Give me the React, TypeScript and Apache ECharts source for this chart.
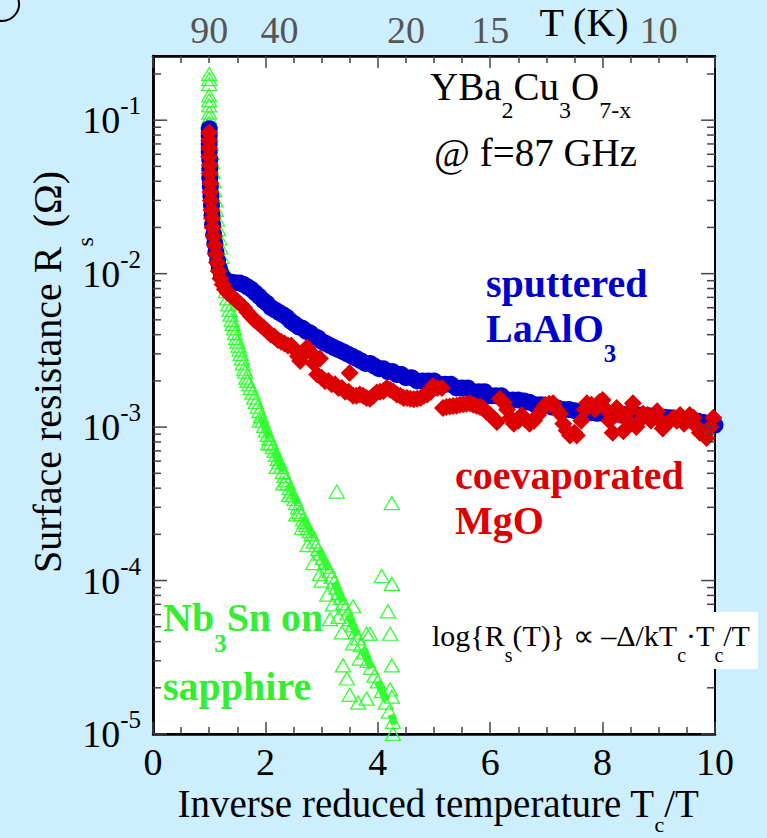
import React, { useEffect, useRef } from "react";
import * as echarts from "echarts";

// ---------------- data ----------------
const TC = 90; // K
const xMin = 0;
const xMax = 10;
const xInterval = 2;
const yMin = 1e-5;
const yMax = 0.262;
const topTemperatures = [90, 40, 20, 15, 10];
const decades = [1e-5, 1e-4, 1e-3, 1e-2, 1e-1];
const minorMultipliers = [2, 3, 4, 5, 6, 7, 8, 9];

const sputteredLaAlO3: number[][] = [
  [1.0, 0.088], [1.0, 0.079], [1.0, 0.07], [1.0, 0.062], [1.01, 0.055], [1.01, 0.048], [1.01, 0.042],
  [1.02, 0.037], [1.03, 0.032], [1.04, 0.028], [1.05, 0.024], [1.06, 0.021], [1.08, 0.018], [1.1, 0.0158],
  [1.12, 0.0138], [1.15, 0.0121], [1.18, 0.0108], [1.22, 0.0098], [1.27, 0.0092], [1.33, 0.0089],
  [1.4, 0.0088], [1.47, 0.0087], [1.54, 0.0087], [1.61, 0.0085], [1.68, 0.0082], [1.75, 0.0079],
  [1.82, 0.0075], [1.89, 0.0071], [1.96, 0.0067], [2.03, 0.0064], [2.1, 0.006], [2.17, 0.0058],
  [2.24, 0.0056], [2.31, 0.0054], [2.38, 0.0052], [2.45, 0.0049], [2.52, 0.0047], [2.59, 0.0045],
  [2.66, 0.0044], [2.73, 0.0042], [2.8, 0.0041], [2.87, 0.0039], [2.94, 0.0038], [3.01, 0.0036],
  [3.08, 0.0035], [3.15, 0.0034], [3.22, 0.0033], [3.3, 0.0032], [3.38, 0.0031], [3.46, 0.003],
  [3.54, 0.0029], [3.62, 0.0028], [3.7, 0.0027], [3.78, 0.0026], [3.86, 0.0026], [3.94, 0.0025],
  [4.02, 0.0024], [4.1, 0.0024], [4.18, 0.0023], [4.26, 0.0023], [4.34, 0.0022], [4.42, 0.0022],
  [4.5, 0.0021], [4.6, 0.0021], [4.7, 0.002], [4.8, 0.002], [4.9, 0.002], [5.0, 0.002], [5.1, 0.0019],
  [5.2, 0.0019], [5.3, 0.0019], [5.4, 0.0018], [5.5, 0.0018], [5.6, 0.0018], [5.7, 0.0017],
  [5.8, 0.0017], [5.9, 0.0017], [6.0, 0.0016], [6.1, 0.0016], [6.2, 0.0016], [6.3, 0.0015],
  [6.4, 0.0015], [6.5, 0.0015], [6.6, 0.00148], [6.7, 0.00145], [6.8, 0.0014], [6.9, 0.0014],
  [7.0, 0.00138], [7.1, 0.00135], [7.2, 0.00133], [7.3, 0.0013], [7.4, 0.0013], [7.5, 0.00128],
  [7.6, 0.00127], [7.7, 0.00125], [7.8, 0.00124], [7.9, 0.00123], [8.0, 0.00123], [8.1, 0.00122],
  [8.2, 0.00122], [8.3, 0.00121], [8.4, 0.00121], [8.5, 0.0012], [8.6, 0.0012], [8.7, 0.0012],
  [8.8, 0.00119], [8.9, 0.00118], [9.0, 0.00117], [9.1, 0.00116], [9.2, 0.00115], [9.3, 0.00114],
  [9.4, 0.00113], [9.5, 0.00112], [9.6, 0.0011], [9.7, 0.00109], [9.8, 0.00107], [9.9, 0.00105],
  [10.0, 0.00103],
];

const coevaporatedMgO: number[][] = [
  [1.0, 0.083], [1.0, 0.074], [1.0, 0.066], [1.0, 0.058], [1.01, 0.051], [1.01, 0.045], [1.02, 0.039],
  [1.02, 0.034], [1.03, 0.03], [1.04, 0.026], [1.05, 0.023], [1.06, 0.02], [1.08, 0.0175], [1.1, 0.0153],
  [1.12, 0.0134], [1.14, 0.0118], [1.17, 0.0104], [1.2, 0.0093], [1.24, 0.0085], [1.28, 0.0079],
  [1.33, 0.0075], [1.38, 0.0072], [1.44, 0.0069], [1.5, 0.0066], [1.56, 0.0063], [1.62, 0.006],
  [1.68, 0.0056], [1.74, 0.0053], [1.8, 0.005], [1.86, 0.0048], [1.92, 0.0046], [1.98, 0.0044],
  [2.04, 0.0042], [2.1, 0.004], [2.16, 0.0039], [2.22, 0.0037], [2.28, 0.0036], [2.34, 0.0035],
  [2.4, 0.0034], [2.46, 0.0034], [2.52, 0.0032], [2.58, 0.0029], [2.62, 0.0027], [2.68, 0.003],
  [2.74, 0.0033], [2.8, 0.0031], [2.86, 0.0026], [2.92, 0.0022], [2.97, 0.0028], [3.0, 0.0021],
  [3.06, 0.002], [3.12, 0.002], [3.18, 0.0019], [3.24, 0.0019], [3.3, 0.0018], [3.36, 0.0018],
  [3.42, 0.0017], [3.48, 0.0017], [3.5, 0.00225], [3.56, 0.0016], [3.62, 0.0016], [3.68, 0.00163],
  [3.74, 0.0016], [3.8, 0.00155], [3.86, 0.00153], [3.92, 0.0016], [3.98, 0.00168], [4.04, 0.0017],
  [4.1, 0.00172], [4.16, 0.0018], [4.22, 0.00175], [4.28, 0.0017], [4.34, 0.00163], [4.4, 0.0016],
  [4.46, 0.00155], [4.52, 0.00155], [4.58, 0.00153], [4.64, 0.00152], [4.7, 0.00153], [4.76, 0.00155],
  [4.82, 0.0016], [4.88, 0.00163], [4.94, 0.0017], [4.98, 0.00185], [5.06, 0.0018], [5.14, 0.0018],
  [5.16, 0.00133], [5.22, 0.00135], [5.28, 0.00136], [5.34, 0.00137], [5.4, 0.00138], [5.46, 0.0014],
  [5.52, 0.00141], [5.58, 0.00142], [5.64, 0.00143], [5.7, 0.0014], [5.76, 0.00137], [5.82, 0.00135],
  [5.87, 0.00133], [5.94, 0.00125], [6.0, 0.0012], [6.05, 0.00115], [6.12, 0.00108], [6.17, 0.00153],
  [6.24, 0.00145], [6.3, 0.0013], [6.36, 0.00115], [6.42, 0.00105], [6.5, 0.0011], [6.56, 0.0012],
  [6.62, 0.00112], [6.7, 0.00105], [6.78, 0.0011], [6.85, 0.0012], [6.92, 0.0013], [6.98, 0.0014],
  [7.05, 0.00142], [7.12, 0.00143], [7.18, 0.0013], [7.24, 0.00122], [7.3, 0.00105], [7.36, 0.00095],
  [7.42, 0.00088], [7.5, 0.00092], [7.54, 0.00088], [7.62, 0.0011], [7.68, 0.0013], [7.72, 0.00143],
  [7.8, 0.0014], [7.86, 0.0013], [7.94, 0.00145], [8.0, 0.0015], [8.06, 0.0013], [8.12, 0.0011],
  [8.18, 0.00092], [8.25, 0.00133], [8.31, 0.0012], [8.37, 0.00094], [8.44, 0.0011], [8.5, 0.0013],
  [8.54, 0.00143], [8.6, 0.001], [8.66, 0.0011], [8.72, 0.00122], [8.8, 0.0012], [8.86, 0.0011],
  [8.92, 0.00118], [8.97, 0.00127], [9.02, 0.0011], [9.07, 0.00098], [9.14, 0.00105], [9.2, 0.0011],
  [9.26, 0.00115], [9.32, 0.0011], [9.38, 0.0012], [9.45, 0.00105], [9.5, 0.0011], [9.55, 0.0012],
  [9.62, 0.00115], [9.68, 0.001], [9.73, 0.00092], [9.8, 0.0009], [9.85, 0.00085], [9.92, 0.001],
  [9.97, 0.00115],
];

const nb3snOnSapphire: number[][] = [
  [1.0, 0.2], [1.0, 0.185], [1.0, 0.172], [1.0, 0.145], [1.0, 0.135], [1.0, 0.125], [1.0, 0.112],
  [1.0, 0.104], [1.0, 0.096], [1.01, 0.088], [1.02, 0.08], [1.03, 0.07], [1.04, 0.061], [1.05, 0.053],
  [1.06, 0.046], [1.08, 0.04], [1.09, 0.035], [1.11, 0.03], [1.12, 0.026], [1.14, 0.0225], [1.16, 0.0195],
  [1.18, 0.017], [1.2, 0.0148], [1.22, 0.0128], [1.24, 0.0112], [1.26, 0.0098], [1.28, 0.0086],
  [1.3, 0.0077], [1.32, 0.0069], [1.34, 0.0063], [1.36, 0.0058], [1.38, 0.0054], [1.4, 0.005],
  [1.42, 0.0047], [1.44, 0.0044], [1.46, 0.0041], [1.48, 0.0038], [1.5, 0.0036], [1.52, 0.0034],
  [1.54, 0.0032], [1.56, 0.003], [1.58, 0.0028], [1.6, 0.0026], [1.62, 0.0024], [1.64, 0.0023],
  [1.66, 0.0021], [1.68, 0.002], [1.71, 0.0019], [1.74, 0.0018], [1.77, 0.00168], [1.8, 0.00156],
  [1.83, 0.00146], [1.86, 0.00136], [1.89, 0.00127], [1.92, 0.00118], [1.95, 0.0011], [1.98, 0.00102],
  [2.01, 0.00095], [2.04, 0.00089], [2.07, 0.00084], [2.1, 0.00079], [2.13, 0.00074], [2.16, 0.0007],
  [2.19, 0.00066], [2.22, 0.00062], [2.25, 0.00059], [2.28, 0.00055], [2.31, 0.00051], [2.34, 0.00048],
  [2.37, 0.00045], [2.4, 0.00043], [2.43, 0.0004], [2.46, 0.00038], [2.49, 0.00036], [2.52, 0.00034],
  [2.55, 0.00032], [2.58, 0.0003], [2.61, 0.00028], [2.64, 0.00027], [2.67, 0.00025], [2.7, 0.00024],
  [2.73, 0.00023], [2.76, 0.00022], [2.79, 0.00021], [2.82, 0.0002], [2.86, 0.00018], [2.9, 0.00017],
  [2.94, 0.00016], [2.98, 0.00015], [3.02, 0.00014], [3.06, 0.00013], [3.1, 0.000123], [3.14, 0.000115],
  [3.18, 0.000106], [3.22, 0.000098], [3.26, 0.00009], [3.3, 0.000083], [3.34, 0.000077], [3.38, 0.000071],
  [3.42, 0.000066], [3.46, 0.000061], [3.5, 0.000056], [3.55, 0.000051], [3.6, 0.000046], [3.65, 0.000042],
  [3.7, 0.000038], [3.76, 0.000034], [3.82, 0.00003], [3.88, 0.000027], [3.94, 0.000024], [4.0, 0.000022],
  [4.07, 0.000019], [4.14, 0.000016], [4.2, 0.000014], [4.27, 0.000012],
];

const nb3snScattered: number[][] = [
  [3.27, 0.00038], [4.25, 0.00032], [4.07, 0.000107], [4.25, 0.000095], [4.18, 0.000063], [4.22, 0.000045],
  [4.25, 0.000028], [4.22, 0.0000195], [4.25, 0.0000175], [4.27, 0.00001], [3.38, 0.000028], [3.45, 0.000023],
  [3.5, 0.000018], [3.65, 0.000016], [3.8, 0.000017], [3.56, 0.000039], [3.68, 0.000031], [3.8, 0.000045],
  [3.86, 0.000045], [3.36, 0.000046], [3.15, 0.000056], [2.85, 0.00013], [2.97, 0.00011], [3.1, 0.000081],
  [3.2, 0.00007], [3.56, 0.000068], [2.65, 0.00022], [2.42, 0.00036], [2.2, 0.00055], [1.9, 0.0011],
  [2.05, 0.00078], [2.32, 0.00043], [2.55, 0.00027], [2.75, 0.00017], [3.0, 0.0001], [3.3, 0.000058],
];

const nb3snFilled: number[][] = [
  [1.92, 0.00115], [2.1, 0.00078], [2.3, 0.00052], [2.5, 0.00036], [2.7, 0.00025], [2.9, 0.000175],
  [3.1, 0.000122], [3.3, 0.000083], [3.5, 0.000056], [3.7, 0.000038], [3.9, 0.000026], [4.1, 0.000018],
  [4.3, 0.0000115],
];

// ---------------- styles ----------------
const SERIF = "'Liberation Serif', 'Times New Roman', serif";
const BG = "#cdeefd";
const BLUE = "#0000cc";
const RED = "#dd0000";
const GREEN = "#33ff33";
const GREEN_TEXT = "#33ee33";
const TICK = "#444";

const yTickData: number[][] = [];
decades.forEach((d) => {
  yTickData.push([0, d, 1]);
  minorMultipliers.forEach((m) => {
    const v = m * d;
    if (v <= yMax) yTickData.push([0, v, 0]);
  });
});

function subText(
  x: number,
  y: number,
  text: string,
  o: { size: number; sub: number; lh: number; color: string; bold?: boolean; align?: string; rotation?: number }
) {
  return {
    type: "text",
    x,
    y,
    z: 101,
    rotation: o.rotation || 0,
    silent: true,
    style: {
      text,
      fill: o.color,
      fontSize: o.size,
      fontFamily: SERIF,
      fontWeight: o.bold ? "bold" : "normal",
      lineHeight: o.lh,
      align: o.align || "left",
      verticalAlign: "middle",
      textAlign: o.align || "left",
      textVerticalAlign: "middle",
      rich: {
        s: {
          fontSize: o.sub,
          lineHeight: o.sub,
          fontFamily: SERIF,
          fontWeight: o.bold ? "bold" : "normal",
          fill: o.color,
          verticalAlign: "bottom",
        },
      },
    },
  };
}

export default function App() {
  const ref = useRef<HTMLDivElement>(null);

  useEffect(() => {
    if (!ref.current) return;
    const chart = echarts.init(ref.current, undefined, { renderer: "svg" });

    const scatterTriangle = {
      type: "scatter",
      symbol: "triangle",
      symbolSize: [15, 13],
      silent: true,
      itemStyle: { color: "rgba(255,255,255,0)", borderColor: GREEN, borderWidth: 1.3, opacity: 1 },
      z: 2,
    };

    const option: any = {
      animation: false,
      backgroundColor: BG,
      grid: {
        left: 153,
        right: 52,
        top: 56,
        bottom: 104,
        show: true,
        backgroundColor: "#fff",
        borderColor: "#000",
        borderWidth: 2,
        containLabel: false,
        outerBoundsMode: "none",
      },
      xAxis: [
        {
          type: "value",
          position: "bottom",
          min: xMin,
          max: xMax,
          interval: xInterval,
          axisLine: { show: true, lineStyle: { color: "#000", width: 2.5 } },
          axisTick: { show: true, inside: true, length: 12, lineStyle: { color: TICK, width: 1.5 } },
          minorTick: { show: true, splitNumber: 4, length: 7, lineStyle: { color: TICK, width: 1.5 } },
          axisLabel: { fontSize: 38, fontFamily: SERIF, color: "#000", margin: 9 },
          splitLine: { show: false },
        },
        {
          type: "value",
          position: "top",
          min: xMin,
          max: xMax,
          interval: xInterval,
          axisLine: { show: true, lineStyle: { color: "#000", width: 2.5 } },
          axisTick: { show: true, inside: true, length: 12, lineStyle: { color: TICK, width: 1.5 } },
          minorTick: { show: true, splitNumber: 4, length: 7, lineStyle: { color: TICK, width: 1.5 } },
          axisLabel: { show: false },
          splitLine: { show: false },
        },
        {
          type: "value",
          position: "top",
          min: xMin,
          max: xMax,
          axisLine: { show: false },
          axisTick: { show: false },
          splitLine: { show: false },
          axisLabel: {
            show: true,
            customValues: topTemperatures.map((t) => TC / t),
            formatter: (v: number) => String(Math.round(TC / v)),
            fontSize: 38,
            fontFamily: SERIF,
            color: "#555",
            margin: 7,
          },
        },
      ],
      yAxis: [
        {
          type: "log",
          logBase: 10,
          position: "left",
          min: yMin,
          max: yMax,
          axisLine: { show: true, lineStyle: { color: "#000", width: 2.5 } },
          axisTick: { show: false },
          splitLine: { show: false },
          axisLabel: {
            margin: 12,
            formatter: (v: number) => {
              const e = Math.log10(v);
              const r = Math.round(e);
              if (Math.abs(e - r) > 1e-6) return "";
              return `{b|10}{p|${r}}`;
            },
            rich: {
              b: { fontSize: 38, fontFamily: SERIF, color: "#000", lineHeight: 54 },
              p: { fontSize: 25, fontFamily: SERIF, color: "#000", lineHeight: 25, verticalAlign: "top" },
            },
          },
        },
        {
          type: "log",
          logBase: 10,
          position: "right",
          min: yMin,
          max: yMax,
          axisLine: { show: true, lineStyle: { color: "#000", width: 2.5 } },
          axisTick: { show: false },
          axisLabel: { show: false },
          splitLine: { show: false },
        },
      ],
      series: [
        {
          type: "custom",
          name: "y ticks",
          silent: true,
          clip: false,
          z: 10,
          xAxisIndex: 0,
          yAxisIndex: 0,
          encode: { x: 0, y: 1 },
          data: yTickData,
          renderItem: (_params: any, api: any) => {
            const v = api.value(1);
            const major = api.value(2) === 1;
            const l = api.coord([xMin, v]);
            const r = api.coord([xMax, v]);
            const len = major ? 14 : 8;
            const st = { stroke: TICK, lineWidth: 1.5 };
            return {
              type: "group",
              children: [
                { type: "line", shape: { x1: l[0], y1: l[1], x2: l[0] + len, y2: l[1] }, style: st },
                { type: "line", shape: { x1: r[0], y1: r[1], x2: r[0] - len, y2: r[1] }, style: st },
              ],
            };
          },
        },
        { ...scatterTriangle, name: "Nb3Sn on sapphire", data: nb3snOnSapphire },
        { ...scatterTriangle, name: "Nb3Sn on sapphire (scatter)", data: nb3snScattered },
        {
          type: "line",
          name: "Nb3Sn filled",
          data: nb3snFilled,
          symbol: "none",
          silent: true,
          z: 2,
          lineStyle: { color: GREEN, width: 7, type: [22, 14], opacity: 1 },
        },
        {
          type: "scatter",
          name: "sputtered LaAlO3",
          data: sputteredLaAlO3,
          symbol: "circle",
          symbolSize: 17,
          silent: true,
          z: 3,
          itemStyle: { color: BLUE, opacity: 1 },
        },
        {
          type: "scatter",
          name: "coevaporated MgO",
          data: coevaporatedMgO,
          symbol: "diamond",
          symbolSize: 18,
          silent: true,
          z: 4,
          itemStyle: { color: RED, opacity: 1 },
        },
      ],
      graphic: [
        {
          type: "arc",
          z: 100,
          silent: true,
          shape: { cx: 2, cy: 4, r: 17, startAngle: -0.3, endAngle: 1.7 },
          style: { stroke: "#000", lineWidth: 2, fill: "none" },
        },
        {
          type: "text",
          x: 584,
          y: 22,
          z: 100,
          silent: true,
          style: {
            text: "T (K)",
            fill: "#000",
            fontSize: 40,
            fontFamily: SERIF,
            align: "center",
            verticalAlign: "middle",
            textAlign: "center",
            textVerticalAlign: "middle",
          },
        },
        subText(47, 372, "Surface resistance R{s|s} (Ω)", {
          size: 40, sub: 24, lh: 100, color: "#000", align: "center", rotation: Math.PI / 2,
        }),
        subText(438, 803, "Inverse reduced temperature T{s|c}/T", {
          size: 39, sub: 22, lh: 64, color: "#000", align: "center",
        }),
        subText(430, 86, "YBa{s|2}Cu{s|3}O{s|7-x}", { size: 39, sub: 24, lh: 72, color: "#000" }),
        subText(434, 152, "@ f=87 GHz", { size: 39, sub: 24, lh: 46, color: "#000" }),
        subText(486, 283, "sputtered", { size: 40, sub: 25, lh: 48, color: BLUE, bold: true }),
        subText(486, 328, "LaAlO{s|3}", { size: 40, sub: 25, lh: 75, color: BLUE, bold: true }),
        subText(455, 475, "coevaporated", { size: 40, sub: 25, lh: 48, color: RED, bold: true }),
        subText(455, 520, "MgO", { size: 40, sub: 25, lh: 48, color: RED, bold: true }),
        subText(163, 617, "Nb{s|3}Sn on", { size: 40, sub: 25, lh: 77, color: GREEN_TEXT, bold: true }),
        subText(163, 686, "sapphire", { size: 40, sub: 25, lh: 48, color: GREEN_TEXT, bold: true }),
        {
          type: "rect",
          z: 100,
          silent: true,
          shape: { x: 428, y: 612, width: 330, height: 57 },
          style: { fill: "#fff" },
        },
        subText(432, 635, "log{R{s|s}(T)} ∝ –Δ/kT{s|c}·T{s|c}/T", { size: 30, sub: 20, lh: 60, color: "#000" }),
      ],
    };

    chart.setOption(option);
    return () => chart.dispose();
  }, []);

  return (
    <div
      ref={ref}
      style={{ position: "absolute", left: 0, top: 0, width: 767, height: 838 }}
    />
  );
}
